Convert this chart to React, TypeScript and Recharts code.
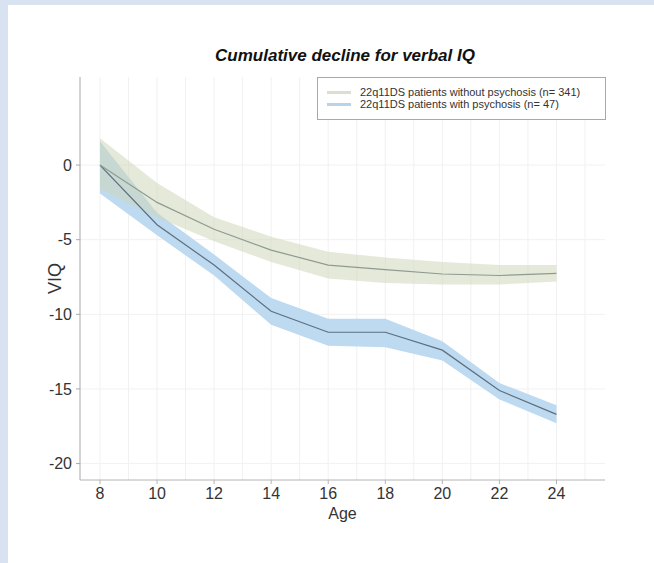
import React from 'react';
import { ComposedChart, Area, Line, XAxis, YAxis, CartesianGrid } from 'recharts';

const ages = [8, 10, 12, 14, 16, 18, 20, 22, 24];
const noPsyMean = [0, -2.5, -4.3, -5.7, -6.7, -7.0, -7.3, -7.4, -7.25];
const noPsyLow = [-1.6, -3.5, -5.1, -6.5, -7.6, -7.9, -8.0, -8.0, -7.8];
const noPsyHigh = [1.8, -1.2, -3.5, -4.8, -5.8, -6.2, -6.5, -6.7, -6.7];
const psyMean = [0, -4.0, -6.7, -9.8, -11.2, -11.2, -12.4, -15.1, -16.7];
const psyLow = [-1.9, -4.7, -7.4, -10.7, -12.1, -12.2, -13.1, -15.7, -17.3];
const psyHigh = [1.6, -3.2, -6.0, -8.9, -10.3, -10.3, -11.8, -14.6, -16.1];

const xTicks = [8, 10, 12, 14, 16, 18, 20, 22, 24];
const yTicks = [-20, -15, -10, -5, 0];
const gridX = [8, 9, 10, 11, 12, 13, 14, 15, 16, 17, 18, 19, 20, 21, 22, 23, 24, 25];

const title = 'Cumulative decline for verbal IQ';
const legendLabels = [
  '22q11DS patients without psychosis (n= 341)',
  '22q11DS patients with psychosis (n= 47)',
];

const data = ages.map((age, i) => ({
  age,
  noPsyMean: noPsyMean[i],
  noPsyBand: [noPsyLow[i], noPsyHigh[i]],
  psyMean: psyMean[i],
  psyBand: [psyLow[i], psyHigh[i]],
}));

const FONT = '"Liberation Sans", Arial, sans-serif';

export default function App() {
  return (
    <div style={{ position: 'absolute', left: 0, top: 0, width: 654, height: 563, background: '#d8e2f1', overflow: 'hidden', fontFamily: FONT }}>
      <div style={{ position: 'absolute', left: 8, top: 5, right: 0, bottom: 0, background: '#ffffff' }} />
      <div style={{ position: 'absolute', left: 0, top: 46, width: 690, textAlign: 'center', fontSize: 17, fontWeight: 'bold', fontStyle: 'italic', color: '#111' }}>{title}</div>
      <div style={{ position: 'absolute', left: 0, top: 0 }}>
        <ComposedChart width={654} height={563} data={data} margin={{ top: 77, right: 49, bottom: 33, left: 0 }} style={{ fontFamily: FONT }}>
          <CartesianGrid stroke="#f1f1f1" verticalValues={gridX} horizontalValues={yTicks} />
          <XAxis dataKey="age" type="number" domain={[7.3, 25.7]} ticks={xTicks} tickSize={4} tickMargin={4} height={50}
            stroke="#b4b4b4" tick={{ fill: '#333', fontSize: 16 }}
            label={{ value: 'Age', position: 'insideBottom', offset: 11, fill: '#333', fontSize: 16 }} />
          <XAxis xAxisId="top" orientation="top" dataKey="age" type="number" domain={[7.3, 25.7]} tick={false} tickLine={false} height={0} stroke="#c8c8c8" />
          <YAxis type="number" domain={[-21.1, 5.9]} ticks={yTicks} tickSize={4} tickMargin={4} width={80}
            stroke="#a8a8a8" tick={{ fill: '#333', fontSize: 16 }}
            label={{ value: 'VIQ', angle: -90, position: 'insideLeft', offset: 55, fill: '#333', fontSize: 18, style: { textAnchor: 'middle' } }} />
          <YAxis yAxisId="right" orientation="right" type="number" domain={[-21.1, 5.9]} tick={false} tickLine={false} width={0} stroke="#c8c8c8" />
          <Area type="linear" dataKey="psyBand" stroke="none" fill="#bedaf0" fillOpacity={1} isAnimationActive={false} />
          <Line type="linear" dataKey="psyMean" stroke="#5b6f80" strokeWidth={1.2} dot={false} isAnimationActive={false} />
          <Area type="linear" dataKey="noPsyBand" stroke="none" fill="#cdd7ba" fillOpacity={0.55} isAnimationActive={false} />
          <Line type="linear" dataKey="noPsyMean" stroke="#8e9c90" strokeWidth={1.2} dot={false} isAnimationActive={false} />
        </ComposedChart>
      </div>
      <div style={{ position: 'absolute', left: 317, top: 77, width: 287, height: 41, border: '1px solid #a8a8a8', background: '#fff', fontSize: 11, color: '#333' }}>
        {legendLabels.map((t, i) => (
          <div key={t} style={{ position: 'absolute', left: 0, top: 8 + i * 12, height: 12, width: 287 }}>
            <div style={{ position: 'absolute', left: 9, top: 5, width: 24, height: 3, background: i === 0 ? '#dadfd0' : '#b9d4ea' }} />
            <div style={{ position: 'absolute', left: 42, top: 0, whiteSpace: 'nowrap', lineHeight: '12px' }}>{t}</div>
          </div>
        ))}
      </div>
    </div>
  );
}
